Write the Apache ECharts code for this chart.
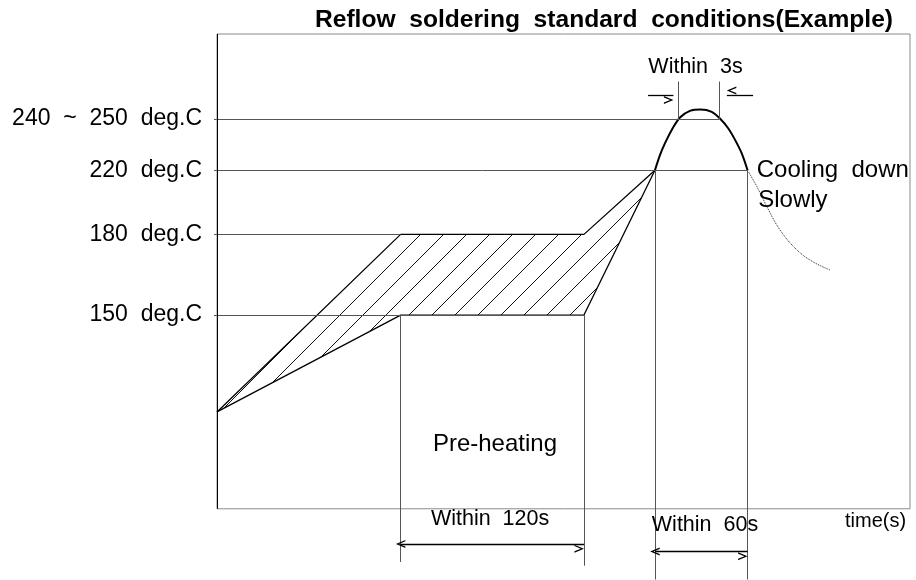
<!DOCTYPE html>
<html><head><meta charset="utf-8">
<script src="https://cdn.jsdelivr.net/npm/echarts@6/dist/echarts.min.js"></script>
<style>html,body{margin:0;padding:0;background:#fff}#chart{width:916px;height:580px}</style>
</head><body><div id="chart"></div>
<script>
// ---- data (x = time in s, y = schematic height of the frame, 0..100) ----
const titleText = 'Reflow  soldering  standard  conditions(Example)';
const levelLabels = ['150  deg.C', '180  deg.C', '220  deg.C', '240  ~  250  deg.C'];
const levelHeights = [40.8, 57.8, 71.3, 82.1];
const levelEnds = [240.4, 120.3, 347.6, 329.1];
const profileTimes = [0, 120.3, 240.4, 286.9];
const profileUpper = [20.4, 57.8, 57.8, 71.3];
const profileLower = [20.4, 40.8, 40.8, 71.3];
const peakTimes = [286.9, 290.2, 293.5, 297.9, 303.3, 309.8, 316.9, 324.1, 329.5, 335.0, 339.4, 343.7, 347.6];
const peakHeights = [71.3, 74.5, 77.0, 79.8, 82.4, 83.8, 84.1, 83.6, 82.2, 80.1, 77.7, 74.9, 71.3];
const coolTimes = [347.6, 353.8, 360.3, 368.9, 380.0, 390.5, 401.6];
const coolHeights = [71.3, 67.8, 63.6, 58.7, 54.5, 52.0, 50.3];
const preheatSpan = [120.3, 240.4];   // Within 120s
const reflowSpan = [286.9, 347.6];    // Within 60s
const peakSpan = [302.5, 329.1];      // Within 3s
const timeMax = 454;

// ---- build ----
const FONT = 'Liberation Sans, Arial, sans-serif';
const zip = (xs, ys) => xs.map((x, i) => [x, ys[i]]);
const upperPts = zip(profileTimes, profileUpper);
const lowerPts = zip(profileTimes, profileLower);
const bandPts = upperPts.concat(lowerPts.slice().reverse());

function hatchTile() {
  const c = document.createElement('canvas');
  c.width = 23; c.height = 23;
  const g = c.getContext('2d');
  g.strokeStyle = '#111'; g.lineWidth = 1;
  for (const dx of [-23, 0, 23]) {
    g.beginPath(); g.moveTo(dx, 23); g.lineTo(dx + 23, 0); g.stroke();
  }
  return c;
}
const hatch = hatchTile();

const chevron = 'path://M4,0 L8,9.5 L6.6,9.5 L4,3.2 L1.4,9.5 L0,9.5 Z';
const seg = (a, b, extra) => [Object.assign({ coord: a }, extra && extra[0]), Object.assign({ coord: b }, extra && extra[1])];

const guideLines = [];
levelHeights.forEach((h, i) => guideLines.push(seg([0, h], [levelEnds[i], h])));
guideLines.push(seg([preheatSpan[0], levelHeights[0]], [preheatSpan[0], -11.2]));
guideLines.push(seg([preheatSpan[1], levelHeights[0]], [preheatSpan[1], -12.0]));
guideLines.push(seg([reflowSpan[0], levelHeights[2]], [reflowSpan[0], -14.9]));
guideLines.push(seg([reflowSpan[1], levelHeights[2]], [reflowSpan[1], -14.9]));
guideLines.push(seg([peakSpan[0], levelHeights[3]], [peakSpan[0], 90.0]));
guideLines.push(seg([peakSpan[1], levelHeights[3]], [peakSpan[1], 90.0]));

const both = [{ symbol: chevron }, { symbol: chevron }];
const endOnly = [{ symbol: 'none' }, { symbol: chevron }];
const arrowLines = [
  seg([preheatSpan[0], -7.4], [preheatSpan[1], -7.4], both),
  seg([reflowSpan[0], -9.0], [reflowSpan[1], -9.0], both),
  seg([peakSpan[0] - 20.1, 87.1], [peakSpan[0] - 3.5, 87.1], endOnly),
  seg([peakSpan[1] + 22.1, 87.1], [peakSpan[1] + 4.9, 87.1], endOnly)
];

const annotations = [
  { text: 'Pre-heating', at: [182.1, 13.6], size: 24, align: 'center' },
  { text: 'Within  120s', at: [178.9, -2.1], size: 21.5, align: 'center' },
  { text: 'Within  60s', at: [319.7, -3.4], size: 21.5, align: 'center' },
  { text: 'Within  3s', at: [313.5, 93.1], size: 21.5, align: 'center' },
  { text: 'Cooling  down', at: [353.6, 71.3], size: 24, align: 'left' },
  { text: 'Slowly', at: [354.6, 65.0], size: 24, align: 'left' },
  { text: 'time(s)', at: [411.4, -2.6], size: 20, align: 'left' }
];

const chart = echarts.init(document.getElementById('chart'), null, { renderer: 'canvas' });
chart.setOption({
  animation: false,
  backgroundColor: '#fff',
  title: {
    text: titleText, right: 23, top: 8, padding: 0,
    textStyle: { fontFamily: FONT, fontSize: 24.6, fontWeight: 'bold', color: '#000' }
  },
  grid: { left: 217, right: 6, top: 34, bottom: 0, containLabel: false },
  xAxis: {
    type: 'value', min: 0, max: timeMax,
    axisLine: { show: false }, axisTick: { show: false }, axisLabel: { show: false }, splitLine: { show: false }
  },
  yAxis: {
    type: 'value', min: -15, max: 100,
    axisLine: { show: false }, splitLine: { show: false },
    axisTick: { show: true, length: 3, customValues: levelHeights, lineStyle: { color: '#555' } },
    axisLabel: {
      show: true, customValues: levelHeights, margin: 15,
      fontFamily: FONT, fontSize: 23, color: '#000',
      formatter: v => { const i = levelHeights.indexOf(v); return i >= 0 ? levelLabels[i] : ''; }
    }
  },
  series: [
    {
      name: 'hatch', type: 'custom', clip: false, silent: true, z: 2,
      data: bandPts,
      renderItem: (params, api) => {
        if (params.dataIndex !== 0) return null;
        return {
          type: 'polygon',
          shape: { points: bandPts.map(p => api.coord(p)) },
          style: { fill: { image: hatch, repeat: 'repeat', x: 11, y: 0 }, stroke: null }
        };
      }
    },
    {
      name: 'lower', type: 'line', clip: false, symbol: 'none', z: 3,
      data: lowerPts,
      lineStyle: { color: '#000', width: 1.3 },
      markLine: {
        silent: true, symbol: 'none', label: { show: false },
        lineStyle: { color: '#555', width: 1, type: 'solid' },
        data: guideLines.concat([seg([0, 0], [0, 100], [{ lineStyle: { color: '#000' } }, {}])])
      },
      markArea: {
        silent: true, label: { show: false },
        itemStyle: { color: 'rgba(0,0,0,0)', borderColor: '#8a8a8a', borderWidth: 1 },
        data: [[{ coord: [0, 0] }, { coord: [timeMax, 100] }]]
      }
    },
    {
      name: 'upper', type: 'line', clip: false, symbol: 'none', z: 3,
      data: upperPts,
      lineStyle: { color: '#000', width: 1.3 }
    },
    {
      name: 'peak', type: 'line', clip: false, symbol: 'none', smooth: 0.3, z: 4,
      data: zip(peakTimes, peakHeights),
      lineStyle: { color: '#000', width: 2 },
      markLine: {
        silent: true, label: { show: false },
        symbolSize: [8, 9.5], symbolOffset: [0, 4.75],
        lineStyle: { color: '#000', width: 1.3, type: 'solid' },
        data: arrowLines
      }
    },
    {
      name: 'cooling', type: 'line', clip: false, symbol: 'none', smooth: 0.4, z: 4,
      data: zip(coolTimes, coolHeights),
      lineStyle: { color: '#222', width: 1, type: 'dotted' }
    },
    {
      name: 'notes', type: 'scatter', clip: false, silent: true, symbolSize: 0, z: 6,
      itemStyle: { color: 'transparent', opacity: 1 },
      label: { show: true, position: [0, 0], verticalAlign: 'middle', color: '#000', opacity: 1, textBorderWidth: 0, fontFamily: FONT },
      data: annotations.map(a => ({
        value: a.at,
        label: { formatter: a.text, fontSize: a.size, align: a.align }
      }))
    }
  ]
});
</script></body></html>
